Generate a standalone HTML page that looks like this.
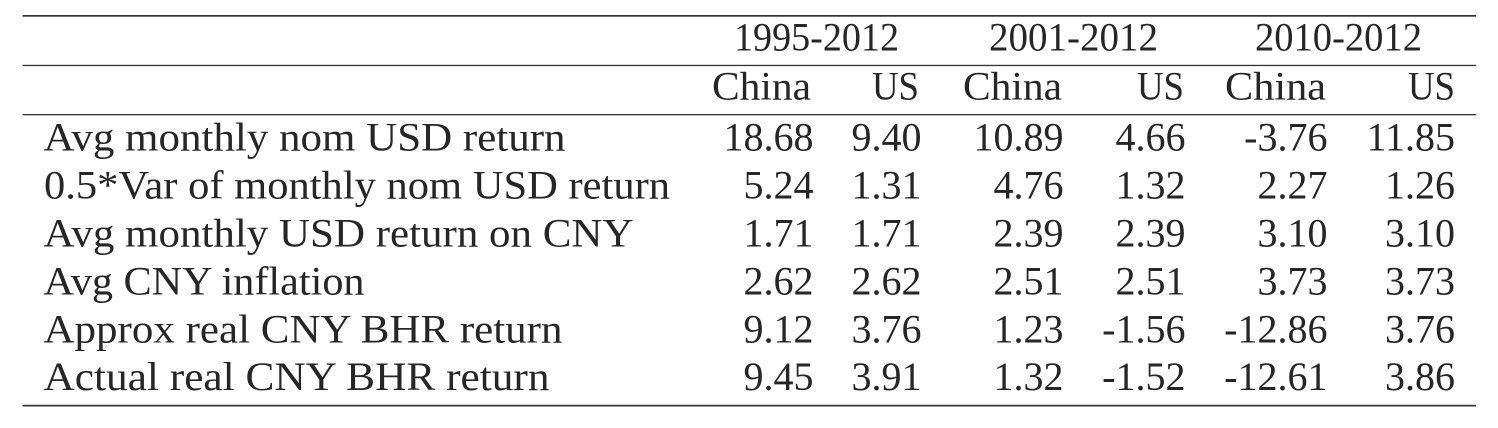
<!DOCTYPE html>
<html>
<head>
<meta charset="utf-8">
<style>
html,body{margin:0;padding:0;background:#fff;}
svg{display:block;}
svg text{font-family:"Liberation Serif",serif;font-size:40px;fill:#262626;}
</style>
</head>
<body>
<svg width="1498" height="428" viewBox="0 0 1498 428" xmlns="http://www.w3.org/2000/svg">
<rect x="0" y="0" width="1498" height="428" fill="#fff"/>
<rect x="22.5" y="15" width="1453.5" height="1.7" fill="#333"/>
<rect x="22.5" y="64.8" width="1453.5" height="1.3" fill="#333"/>
<rect x="22.5" y="114" width="1453.5" height="1.3" fill="#333"/>
<rect x="22.5" y="404.8" width="1453.5" height="1.7" fill="#333"/>

<text x="734" y="50.7" textLength="165" lengthAdjust="spacingAndGlyphs">1995-2012</text>
<text x="989" y="50.7" textLength="169" lengthAdjust="spacingAndGlyphs">2001-2012</text>
<text x="1255" y="50.7" textLength="167" lengthAdjust="spacingAndGlyphs">2010-2012</text>

<text x="712" y="99.5" textLength="99" lengthAdjust="spacingAndGlyphs">China</text>
<text x="872" y="99.5" textLength="47" lengthAdjust="spacingAndGlyphs">US</text>
<text x="963" y="99.5" textLength="99" lengthAdjust="spacingAndGlyphs">China</text>
<text x="1137" y="99.5" textLength="47" lengthAdjust="spacingAndGlyphs">US</text>
<text x="1225" y="99.5" textLength="101" lengthAdjust="spacingAndGlyphs">China</text>
<text x="1408" y="99.5" textLength="47" lengthAdjust="spacingAndGlyphs">US</text>

<text x="43.5" y="150.7" textLength="522" lengthAdjust="spacingAndGlyphs">Avg monthly nom USD return</text>
<text x="44" y="198.6" textLength="626" lengthAdjust="spacingAndGlyphs">0.5*Var of monthly nom USD return</text>
<text x="43.5" y="246.5" textLength="590" lengthAdjust="spacingAndGlyphs">Avg monthly USD return on CNY</text>
<text x="43.5" y="294.4" textLength="321" lengthAdjust="spacingAndGlyphs">Avg CNY inflation</text>
<text x="43.5" y="342.3" textLength="519" lengthAdjust="spacingAndGlyphs">Approx real CNY BHR return</text>
<text x="43.5" y="390.2" textLength="506" lengthAdjust="spacingAndGlyphs">Actual real CNY BHR return</text>

<g text-anchor="end">
<text x="813.5" y="150.7">18.68</text>
<text x="921.5" y="150.7">9.40</text>
<text x="1063.5" y="150.7">10.89</text>
<text x="1185.5" y="150.7">4.66</text>
<text x="1327.5" y="150.7">-3.76</text>
<text x="1455" y="150.7">11.85</text>

<text x="813.5" y="198.6">5.24</text>
<text x="921.5" y="198.6">1.31</text>
<text x="1063.5" y="198.6">4.76</text>
<text x="1185.5" y="198.6">1.32</text>
<text x="1327.5" y="198.6">2.27</text>
<text x="1455" y="198.6">1.26</text>

<text x="813.5" y="246.5">1.71</text>
<text x="921.5" y="246.5">1.71</text>
<text x="1063.5" y="246.5">2.39</text>
<text x="1185.5" y="246.5">2.39</text>
<text x="1327.5" y="246.5">3.10</text>
<text x="1455" y="246.5">3.10</text>

<text x="813.5" y="294.4">2.62</text>
<text x="921.5" y="294.4">2.62</text>
<text x="1063.5" y="294.4">2.51</text>
<text x="1185.5" y="294.4">2.51</text>
<text x="1327.5" y="294.4">3.73</text>
<text x="1455" y="294.4">3.73</text>

<text x="813.5" y="342.3">9.12</text>
<text x="921.5" y="342.3">3.76</text>
<text x="1063.5" y="342.3">1.23</text>
<text x="1185.5" y="342.3">-1.56</text>
<text x="1327.5" y="342.3">-12.86</text>
<text x="1455" y="342.3">3.76</text>

<text x="813.5" y="390.2">9.45</text>
<text x="921.5" y="390.2">3.91</text>
<text x="1063.5" y="390.2">1.32</text>
<text x="1185.5" y="390.2">-1.52</text>
<text x="1327.5" y="390.2">-12.61</text>
<text x="1455" y="390.2">3.86</text>
</g>
</svg>
</body>
</html>
